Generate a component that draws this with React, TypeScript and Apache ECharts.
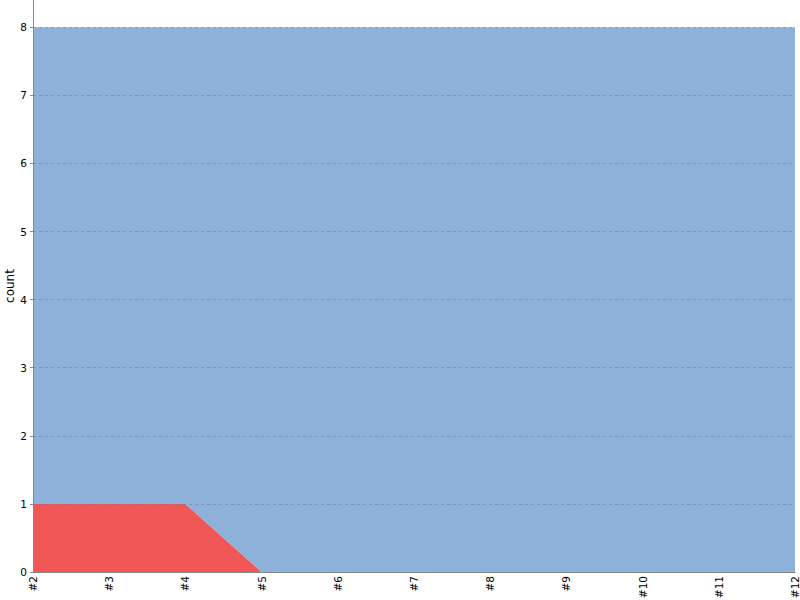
import React, { useEffect, useRef } from 'react';
import * as echarts from 'echarts';

// 分类与数据
const CATEGORIES = ['#2', '#3', '#4', '#5', '#6', '#7', '#8', '#9', '#10', '#11', '#12'];
const RED_VALUES = [1, 1, 1, 0, 0, 0, 0, 0, 0, 0, 0];
const BLUE_VALUES = [7, 7, 7, 8, 8, 8, 8, 8, 8, 8, 8];

const FONT = 'DejaVu Sans';

export default function App() {
  const chartRef = useRef<HTMLDivElement>(null);

  useEffect(() => {
    if (!chartRef.current) return;
    const chart = echarts.init(chartRef.current, undefined, { renderer: 'svg' });

    chart.setOption({
      animation: false,
      backgroundColor: '#fff',
      grid: {
        left: 33,
        right: 5,
        top: 0,
        bottom: 28,
        containLabel: false,
        outerBoundsMode: 'none',
      },
      xAxis: {
        type: 'category',
        data: CATEGORIES,
        boundaryGap: false,
        z: 5,
        axisLine: { lineStyle: { color: '#888', width: 1 } },
        axisTick: { show: false },
        axisLabel: {
          rotate: 90,
          color: '#000',
          fontFamily: FONT,
          fontSize: 10.5,
          margin: 4,
          interval: 0,
        },
        splitLine: { show: false },
      },
      yAxis: {
        type: 'value',
        min: 0,
        max: 8.4,
        interval: 1,
        z: 5,
        name: 'count',
        nameLocation: 'middle',
        nameGap: 17,
        nameMoveOverlap: false,
        nameTextStyle: { color: '#000', fontFamily: FONT, fontSize: 12 },
        axisLine: { show: true, lineStyle: { color: '#888', width: 1 } },
        axisTick: { show: true, length: 3, lineStyle: { color: '#888' } },
        axisLabel: {
          color: '#000',
          fontFamily: FONT,
          fontSize: 10.5,
          margin: 6,
          showMaxLabel: false,
        },
        splitLine: {
          show: true,
          showMaxLine: false,
          lineStyle: { color: 'rgba(90,120,170,0.5)', type: [3, 3], width: 1 },
        },
      },
      series: [
        {
          name: 'red',
          type: 'line',
          stack: 'total',
          data: RED_VALUES,
          symbol: 'none',
          lineStyle: { width: 0 },
          areaStyle: { color: '#f25757', opacity: 1 },
        },
        {
          name: 'blue',
          type: 'line',
          stack: 'total',
          data: BLUE_VALUES,
          symbol: 'none',
          lineStyle: { width: 0 },
          areaStyle: { color: '#8eb1da', opacity: 1 },
        },
      ],
    });

    return () => {
      chart.dispose();
    };
  }, []);

  return (
    <div ref={chartRef} style={{ width: 800, height: 600, position: 'absolute', left: 0, top: 0 }} />
  );
}
